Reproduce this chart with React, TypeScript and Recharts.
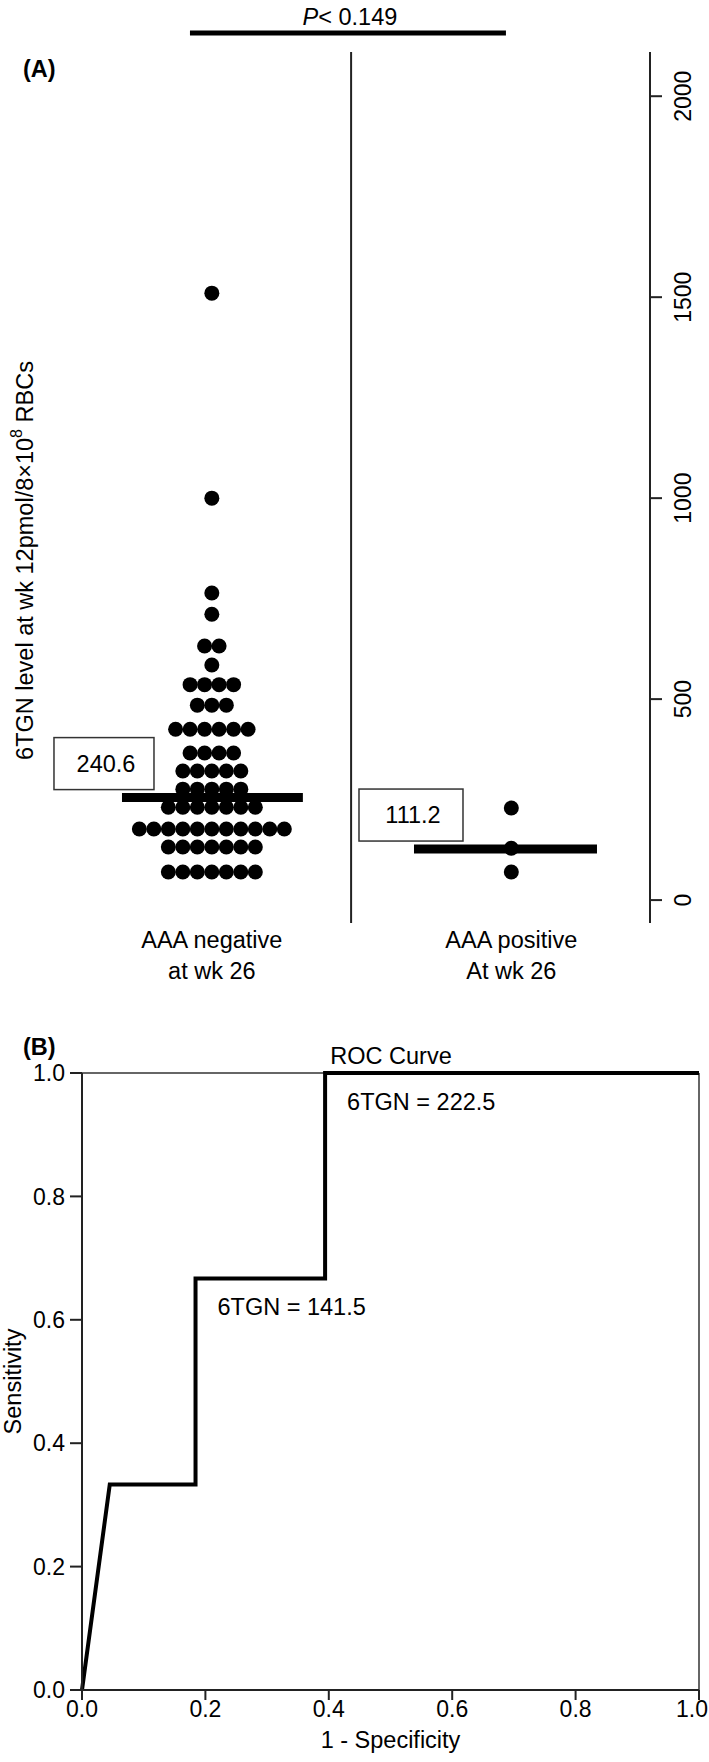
import React from 'react';
import {
    ScatterChart,
    Scatter,
    LineChart,
    Line,
    LabelList,
    XAxis,
    YAxis,
    ReferenceLine
} from 'recharts';

const FONT = '"Liberation Sans", Arial, Helvetica, sans-serif';

// Panel A - 6TGN level at wk 12, one dot per patient, stacked per level
const negLevels = [1510, 1000, 764, 711, 632, 585, 536, 485, 425, 366, 321, 276, 231, 177, 132, 70];
const negCounts = [1, 1, 1, 1, 2, 1, 4, 3, 6, 4, 5, 5, 7, 11, 7, 7];
const posLevels = [229, 129, 70];
const posCounts = [1, 1, 1];
const groupLabels = [['AAA negative', 'at wk 26'], ['AAA positive', 'At wk 26']];
const medianLevels = [255, 127]; // where the bars sit against the axis
const medianLabels = ['240.6', '111.2'];
const levelTicks = [0, 500, 1000, 1500, 2000];
const pText = '< 0.149';

// Panel B - ROC curve
const fpr = [0, 0.045, 0.184, 0.184, 0.394, 0.394, 1];
const tpr = [0, 0.333, 0.333, 0.667, 0.667, 1, 1];
const cutoffs = [null, null, null, 141.5, null, 222.5, null];
const rocTicks = [0, 0.2, 0.4, 0.6, 0.8, 1];

// spacing between stacked dots, in x-axis units
const DOT_STEP = 0.0484;

const stack = (levels: number[], counts: number[], center: number) =>
    levels.flatMap((v, i) =>
        Array.from({ length: counts[i] }, (_, k) => ({
            x: center + (k - (counts[i] - 1) / 2) * DOT_STEP,
            y: v
        }))
    );

const dots = [...stack(negLevels, negCounts, 1), ...stack(posLevels, posCounts, 2)];
const rocData = fpr.map((f, i) => ({ fpr: f, tpr: tpr[i], cutoff: cutoffs[i] }));

const txt = { fontFamily: FONT, fontSize: 23.5, fill: '#000' };
const tickTxt = { fontFamily: FONT, fontSize: 23, fill: '#000' };

const ValueBox = (props: any) => {
    const { viewBox, text, dx, w } = props;
    if (!viewBox) return null;
    const { x, y } = viewBox;
    return (
        <g>
            <rect x={x + dx} y={y - 60} width={w} height={52} fill="#fff" stroke="#333" strokeWidth={1.5} />
            <text x={x + dx + w / 2 + 2} y={y - 34} textAnchor="middle" dominantBaseline="central" {...txt}>{text}</text>
        </g>
    );
};

const PLabel = (props: any) => {
    const { viewBox } = props;
    if (!viewBox) return null;
    return (
        <text x={viewBox.x + viewBox.width / 2 + 2} y={viewBox.y - 16} textAnchor="middle" dominantBaseline="central" {...txt}>
            <tspan fontStyle="italic">P</tspan>{pText}
        </text>
    );
};

const RotatedTick = (props: any) => {
    const { x, y, payload } = props;
    const cx = x + 21;
    return (
        <text x={cx} y={y} transform={`rotate(-90, ${cx}, ${y})`} textAnchor="middle" dominantBaseline="central" {...tickTxt}>
            {payload.value}
        </text>
    );
};

const GroupTick = (props: any) => {
    const { x, y, payload } = props;
    const lines = groupLabels[Math.round(payload.value) - 1] || [];
    return (
        <g>
            <text x={x} y={y + 17} textAnchor="middle" dominantBaseline="central" {...txt}>{lines[0]}</text>
            <text x={x} y={y + 48} textAnchor="middle" dominantBaseline="central" {...txt}>{lines[1]}</text>
        </g>
    );
};

// last label would run past the page edge, so it is right-aligned
const RocXTick = (props: any) => {
    const { x, y, payload } = props;
    const last = payload.value === 1;
    return (
        <text x={last ? x + 9 : x} y={y} dy="0.71em" textAnchor={last ? 'end' : 'middle'} {...tickTxt}>
            {Number(payload.value).toFixed(1)}
        </text>
    );
};

const LevelTitle = (props: any) => {
    const { viewBox } = props;
    if (!viewBox) return null;
    const cx = viewBox.x + 25;
    const cy = viewBox.y + viewBox.height / 2 + 73;
    return (
        <text x={cx} y={cy} transform={`rotate(-90, ${cx}, ${cy})`} textAnchor="middle" dominantBaseline="central" {...txt}>
            6TGN level at wk 12pmol/8×10<tspan dy={-9} fontSize={16}>8</tspan><tspan dy={9}> RBCs</tspan>
        </text>
    );
};

const SensTitle = (props: any) => {
    const { viewBox } = props;
    if (!viewBox) return null;
    const cx = viewBox.x + 13;
    const cy = viewBox.y + viewBox.height / 2;
    return (
        <text x={cx} y={cy} transform={`rotate(-90, ${cx}, ${cy})`} textAnchor="middle" dominantBaseline="central" {...txt}>
            Sensitivity
        </text>
    );
};

const SpecTitle = (props: any) => {
    const { viewBox } = props;
    if (!viewBox) return null;
    return (
        <text x={viewBox.x + viewBox.width / 2} y={viewBox.y + 50} textAnchor="middle" dominantBaseline="central" {...txt}>
            1 - Specificity
        </text>
    );
};

const CutoffLabel = (props: any) => {
    const { x, y, value } = props;
    if (value === null || value === undefined || value === '') return null;
    return (
        <text x={x + 22} y={y + 29} textAnchor="start" dominantBaseline="central" {...txt}>
            6TGN = {value}
        </text>
    );
};

const overlay = (left: number, top: number, center: boolean, bold = false): React.CSSProperties => ({
    position: 'absolute',
    left,
    top,
    transform: center ? 'translate(-50%, -50%)' : 'translateY(-50%)',
    fontFamily: FONT,
    fontSize: 23.5,
    fontWeight: bold ? 'bold' : 'normal',
    lineHeight: 1,
    whiteSpace: 'nowrap',
    color: '#000'
});

export default function App() {
    return (
        <div style={{ position: 'absolute', left: 0, top: 0, width: 709, height: 1762, background: '#fff' }}>
            <div style={{ position: 'absolute', left: 0, top: 0 }}>
                <ScatterChart width={709} height={1000} margin={{ top: 52, right: 9, bottom: 0, left: 0 }}>
                    <XAxis
                        type="number"
                        dataKey="x"
                        domain={[0.463, 2.463]}
                        ticks={[1, 2]}
                        height={77}
                        tickSize={0}
                        tickMargin={0}
                        axisLine={false}
                        tickLine={false}
                        tick={<GroupTick />}
                        allowDataOverflow
                    />
                    <YAxis
                        yAxisId="left"
                        orientation="left"
                        type="number"
                        domain={[-57, 2110]}
                        width={51}
                        tick={false}
                        axisLine={false}
                        tickLine={false}
                        label={<LevelTitle />}
                    />
                    <YAxis
                        yAxisId="right"
                        orientation="right"
                        type="number"
                        dataKey="y"
                        domain={[-57, 2110]}
                        ticks={levelTicks}
                        width={50}
                        tickSize={12}
                        tickMargin={0}
                        axisLine={{ stroke: '#222', strokeWidth: 2 }}
                        tickLine={{ stroke: '#222', strokeWidth: 2 }}
                        tick={<RotatedTick />}
                        allowDataOverflow
                    />
                    <ReferenceLine yAxisId="right" x={1.465} stroke="#222" strokeWidth={2} />
                    <Scatter
                        yAxisId="right"
                        data={dots}
                        isAnimationActive={false}
                        shape={(p: any) => <circle cx={p.cx} cy={p.cy} r={7.5} fill="#000" />}
                    />
                    <ReferenceLine
                        yAxisId="right"
                        segment={[{ x: 0.7, y: medianLevels[0] }, { x: 1.304, y: medianLevels[0] }]}
                        stroke="#000"
                        strokeWidth={9}
                        label={<ValueBox text={medianLabels[0]} dx={-68} w={100} />}
                    />
                    <ReferenceLine
                        yAxisId="right"
                        segment={[{ x: 1.675, y: medianLevels[1] }, { x: 2.286, y: medianLevels[1] }]}
                        stroke="#000"
                        strokeWidth={9}
                        label={<ValueBox text={medianLabels[1]} dx={-55} w={104} />}
                    />
                    <ReferenceLine
                        yAxisId="right"
                        ifOverflow="visible"
                        segment={[{ x: 0.927, y: 2157 }, { x: 1.982, y: 2157 }]}
                        stroke="#000"
                        strokeWidth={5}
                        label={<PLabel />}
                    />
                </ScatterChart>
            </div>
            <div style={overlay(23, 70, false, true)}>(A)</div>

            <div style={{ position: 'absolute', left: 0, top: 1000 }}>
                <LineChart width={709} height={762} data={rocData} margin={{ top: 73, right: 10, bottom: 0, left: 0 }}>
                    <XAxis
                        type="number"
                        dataKey="fpr"
                        domain={[0, 1]}
                        ticks={rocTicks}
                        height={72}
                        tickSize={10}
                        tickMargin={1}
                        axisLine={{ stroke: '#222', strokeWidth: 2 }}
                        tickLine={{ stroke: '#222', strokeWidth: 2 }}
                        tick={<RocXTick />}
                        label={<SpecTitle />}
                    />
                    <YAxis
                        type="number"
                        domain={[0, 1]}
                        ticks={rocTicks}
                        tickFormatter={(v: number) => v.toFixed(1)}
                        width={82}
                        tickSize={12}
                        tickMargin={5}
                        axisLine={{ stroke: '#222', strokeWidth: 2 }}
                        tickLine={{ stroke: '#222', strokeWidth: 2 }}
                        tick={{ ...tickTxt }}
                        label={<SensTitle />}
                    />
                    <ReferenceLine y={1} stroke="#333" strokeWidth={1.5} />
                    <ReferenceLine x={1} stroke="#333" strokeWidth={1.5} />
                    <Line
                        dataKey="tpr"
                        type="linear"
                        stroke="#000"
                        strokeWidth={4}
                        dot={false}
                        isAnimationActive={false}
                    >
                        <LabelList dataKey="cutoff" content={<CutoffLabel />} />
                    </Line>
                </LineChart>
            </div>
            <div style={overlay(23, 1048, false, true)}>(B)</div>
            <div style={overlay(391, 1057, true)}>ROC Curve</div>
        </div>
    );
}
